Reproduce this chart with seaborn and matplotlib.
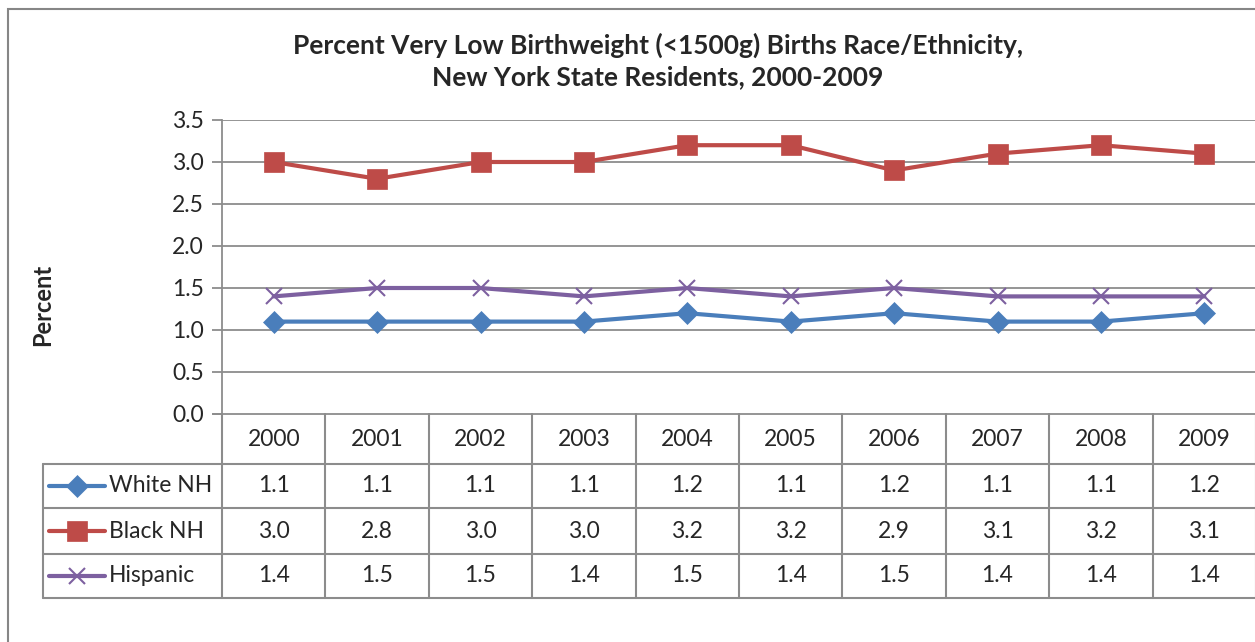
import matplotlib
matplotlib.use('Agg')
import matplotlib.pyplot as plt
import seaborn as sns
import numpy as np
from matplotlib.patches import Rectangle

years = ['2000', '2001', '2002', '2003', '2004', '2005', '2006', '2007', '2008', '2009']
series_names = ['White NH', 'Black NH', 'Hispanic']
white_nh = [1.1, 1.1, 1.1, 1.1, 1.2, 1.1, 1.2, 1.1, 1.1, 1.2]
black_nh = [3.0, 2.8, 3.0, 3.0, 3.2, 3.2, 2.9, 3.1, 3.2, 3.1]
hispanic = [1.4, 1.5, 1.5, 1.4, 1.5, 1.4, 1.5, 1.4, 1.4, 1.4]

colors = ['#4A7EBB', '#BE4B48', '#7D60A0']
markers = ['D', 's', 'x']
msizes = [11, 14, 12]

sns.set_style('white')
plt.rcParams['font.family'] = ['Lato', 'DejaVu Sans']

W, H = 1255, 642
fig = plt.figure(figsize=(W / 100, H / 100), dpi=100)
grid_c = '#8C8C8C'
fs = 16.5

# outer chart border
fig.patches.append(Rectangle((8 / W, -0.05), 1.1, 1 - 9 / H + 0.05, transform=fig.transFigure,
                             fill=False, edgecolor='#868686', lw=1.5))

ax_l, ax_r, ax_t, ax_b = 222, 1256, 120, 414
ax = fig.add_axes([ax_l / W, 1 - ax_b / H, (ax_r - ax_l) / W, (ax_b - ax_t) / H])
x = np.arange(len(years))
data = [white_nh, black_nh, hispanic]
for vals, c, m, ms in zip(data, colors, markers, msizes):
    sns.lineplot(x=x, y=vals, ax=ax, color=c, lw=3, marker=m, markersize=ms,
                 markeredgecolor=c, markeredgewidth=1.5 if m == 'x' else 0.5, clip_on=False)
ax.set_xlim(-0.5, len(years) - 0.5)
ax.set_ylim(0, 3.5)
ax.set_yticks(np.arange(0, 3.51, 0.5))
ax.set_yticklabels([f'{v:.1f}' for v in np.arange(0, 3.51, 0.5)], fontsize=fs)
ax.set_xticks([])
for v in np.arange(0.5, 3.51, 0.5):
    ax.axhline(v, color=grid_c, lw=1.3, zorder=0)
for s in ['top', 'right', 'bottom']:
    ax.spines[s].set_visible(False)
ax.spines['left'].set_color(grid_c)
ax.spines['left'].set_linewidth(1.3)
ax.tick_params(axis='y', length=7, width=1.3, color=grid_c, left=True, pad=6)
ax.axhline(0, color=grid_c, lw=1.3, xmin=-9 / (ax_r - ax_l), clip_on=False)
ax.set_ylabel('Percent', fontsize=17, fontweight='bold')
ax.yaxis.set_label_coords((54 - ax_l) / (ax_r - ax_l), (ax_b - 305) / (ax_b - ax_t))

fig.text(658 / W, 1 - 45 / H, 'Percent Very Low Birthweight (<1500g) Births Race/Ethnicity,',
         ha='center', va='center', fontsize=19, fontweight='bold')
fig.text(658 / W, 1 - 77 / H, 'New York State Residents, 2000-2009',
         ha='center', va='center', fontsize=19, fontweight='bold')

# data table below the plot
tb_l = 43
colw = (ax_r - ax_l) / len(years)
rows = [414, 464, 508, 554, 598]
tab = fig.add_axes([tb_l / W, 1 - rows[-1] / H, (ax_r - tb_l) / W, (rows[-1] - rows[0]) / H])
left = -0.5 - (ax_l - tb_l) / colw
tab.set_xlim(left, len(years) - 0.5)
tab.set_ylim(rows[-1], rows[0])
tab.axis('off')
for i in range(len(years) + 1):
    tab.plot([i - 0.5, i - 0.5], [rows[0], rows[-1]], color=grid_c, lw=1.5, clip_on=False)
tab.plot([left, left], [rows[1], rows[-1]], color=grid_c, lw=1.5, clip_on=False)
for r in rows[1:]:
    tab.plot([left, len(years) - 0.5], [r, r], color=grid_c, lw=1.5, clip_on=False)
for i, y in enumerate(years):
    tab.text(i, (rows[0] + rows[1]) / 2, y, ha='center', va='center', fontsize=fs)
for k, (name, vals, c, m, ms) in enumerate(zip(series_names, data, colors, markers, msizes)):
    yc = (rows[k + 1] + rows[k + 2]) / 2
    for i, v in enumerate(vals):
        tab.text(i, yc, f'{v:.1f}', ha='center', va='center', fontsize=fs)
    k0 = left + 6 / colw
    k1 = left + 62 / colw
    tab.plot([k0, k1], [yc, yc], color=c, lw=3, solid_capstyle='round', clip_on=False)
    tab.plot([(k0 + k1) / 2], [yc], marker=m, markersize=ms, color=c,
             markeredgewidth=1.5 if m == 'x' else 0.5, clip_on=False)
    tab.text(left + 66 / colw, yc, name, ha='left', va='center', fontsize=fs)

fig.savefig('out.png', dpi=100)
